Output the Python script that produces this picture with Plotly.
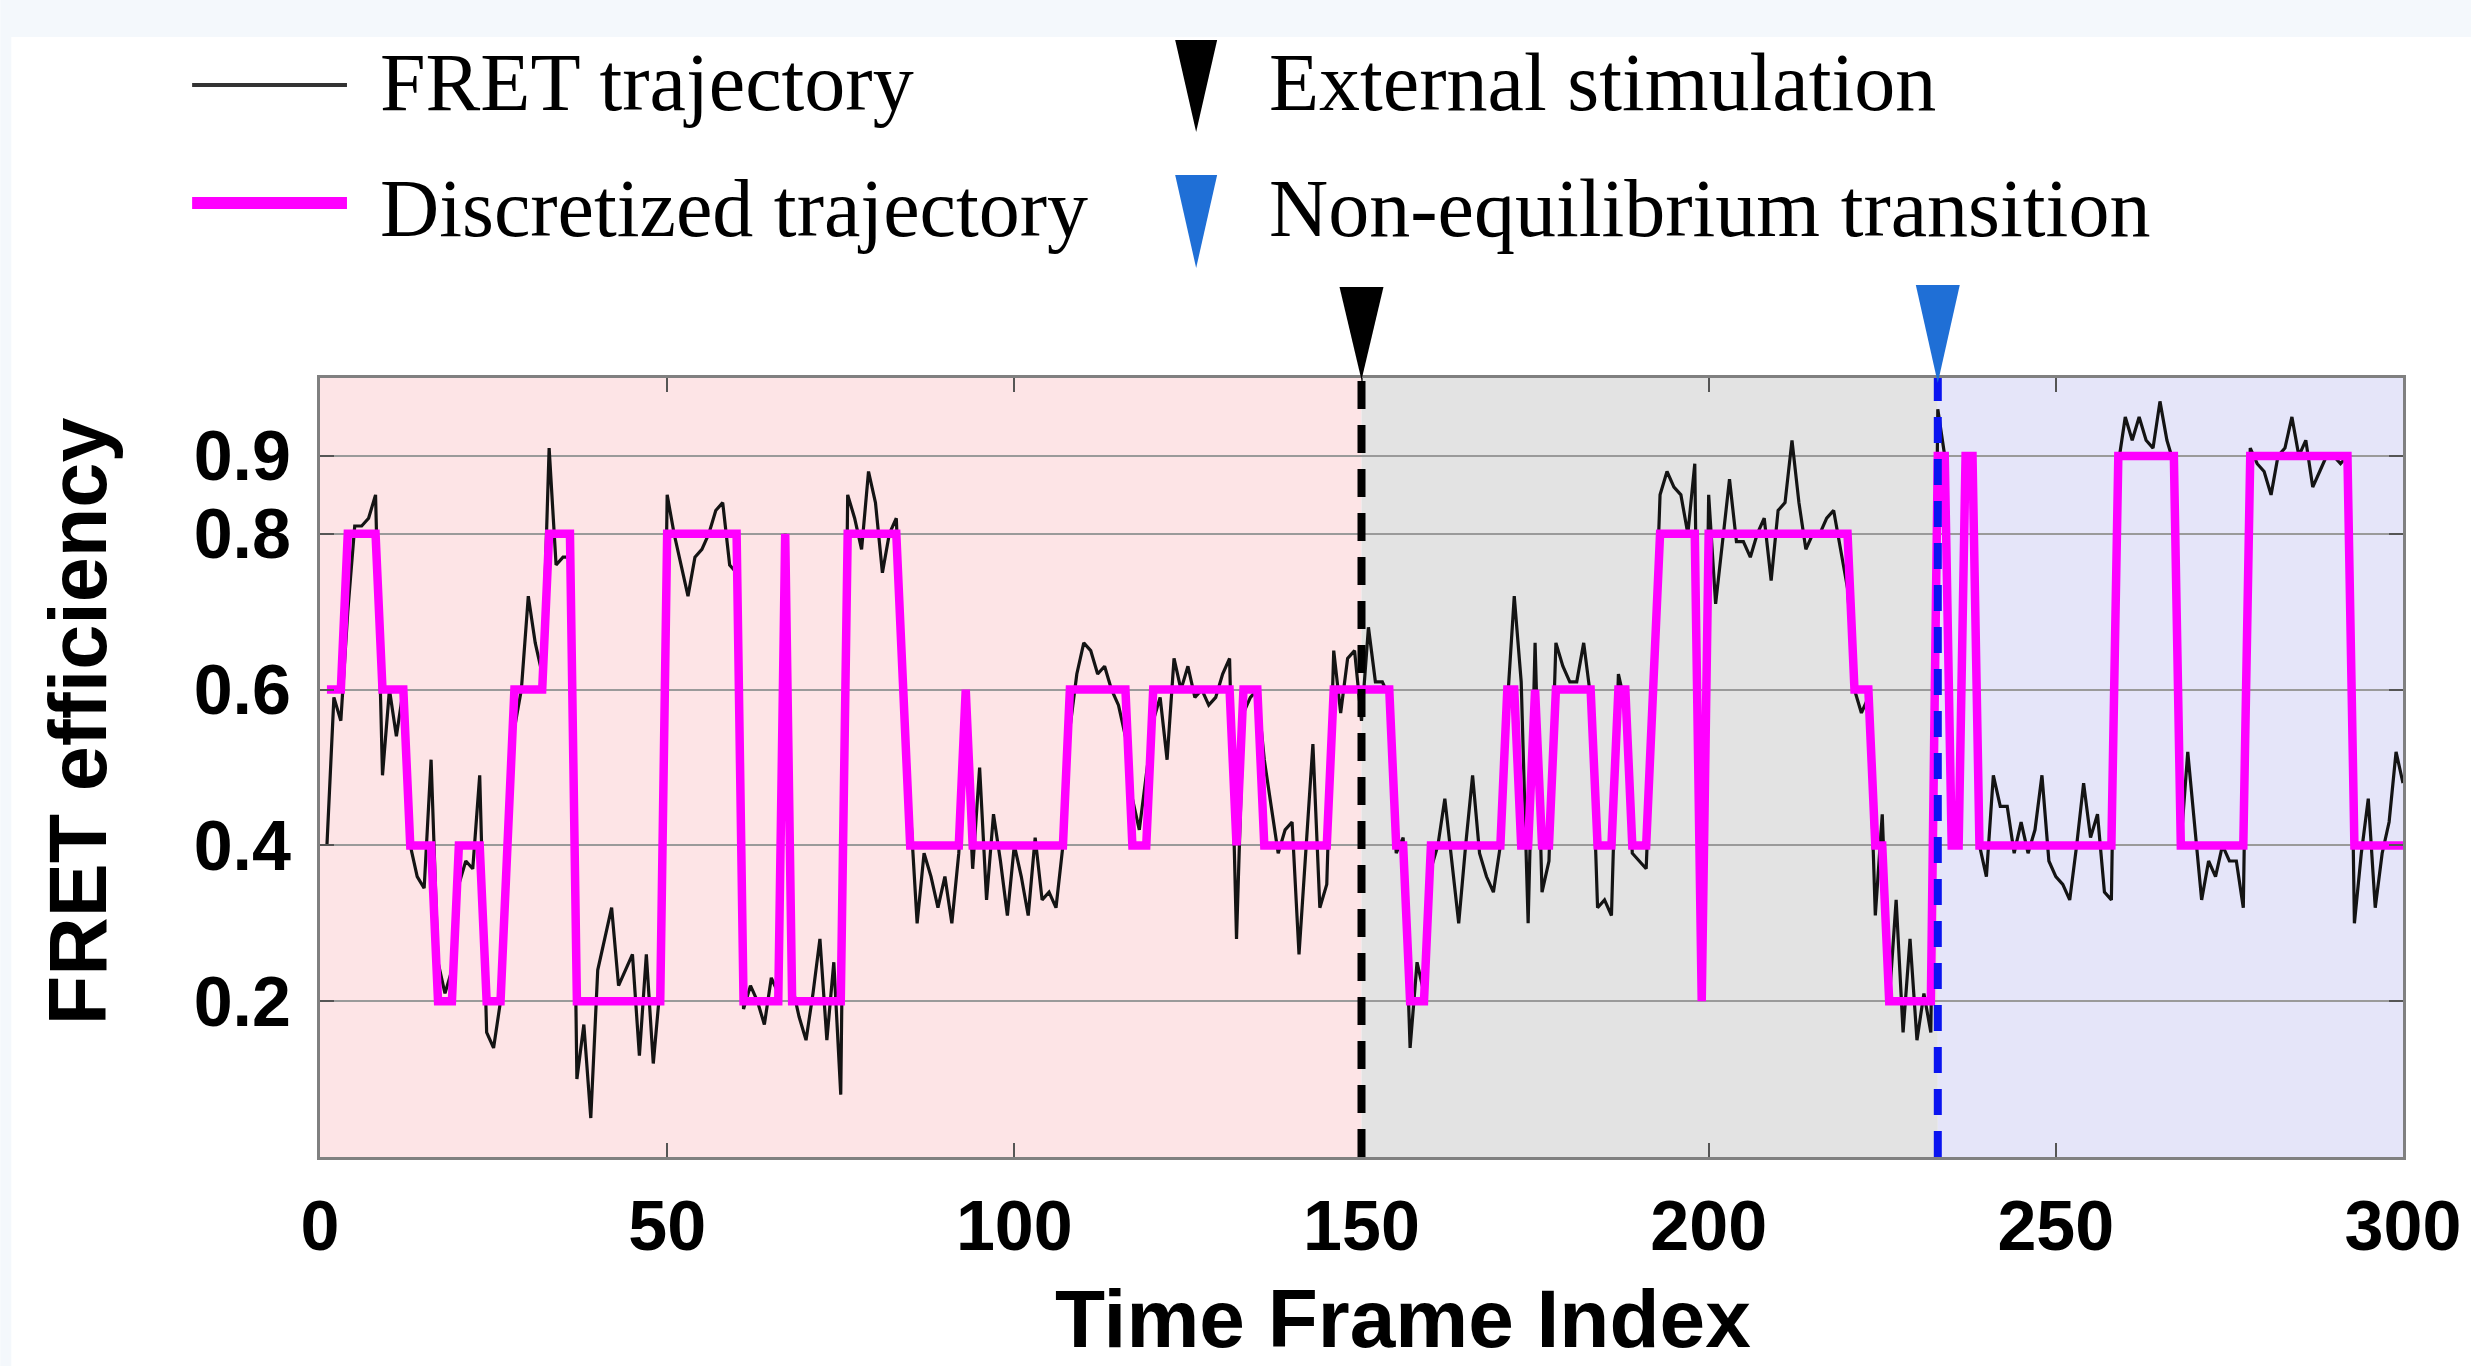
import plotly.graph_objects as go

# ---------------- data ----------------
frames = list(range(1, 301))

fret = [
    0.40, 0.59, 0.56, 0.70, 0.81, 0.81, 0.82, 0.85, 0.49, 0.60,
    0.54, 0.60, 0.40, 0.36, 0.345, 0.51, 0.25, 0.21, 0.24, 0.35,
    0.38, 0.37, 0.49, 0.16, 0.14, 0.20, 0.40, 0.55, 0.60, 0.72,
    0.66, 0.62, 0.91, 0.76, 0.77, 0.77, 0.10, 0.17, 0.05, 0.24,
    0.28, 0.32, 0.22, 0.24, 0.26, 0.13, 0.26, 0.12, 0.22, 0.85,
    0.80, 0.76, 0.72, 0.77, 0.78, 0.80, 0.83, 0.84, 0.76, 0.75,
    0.19, 0.22, 0.20, 0.17, 0.23, 0.21, 0.80, 0.22, 0.18, 0.15,
    0.21, 0.28, 0.15, 0.25, 0.08, 0.85, 0.82, 0.78, 0.88, 0.84,
    0.75, 0.80, 0.82, 0.60, 0.45, 0.30, 0.39, 0.36, 0.32, 0.36,
    0.30, 0.39, 0.56, 0.37, 0.50, 0.33, 0.44, 0.38, 0.31, 0.40,
    0.36, 0.31, 0.41, 0.33, 0.34, 0.32, 0.40, 0.55, 0.62, 0.66,
    0.65, 0.62, 0.63, 0.60, 0.58, 0.54, 0.46, 0.42, 0.49, 0.56,
    0.59, 0.51, 0.64, 0.60, 0.63, 0.59, 0.60, 0.58, 0.59, 0.62,
    0.64, 0.28, 0.57, 0.59, 0.60, 0.51, 0.45, 0.39, 0.42, 0.43,
    0.26, 0.40, 0.53, 0.32, 0.35, 0.65, 0.57, 0.64, 0.65, 0.56,
    0.68, 0.61, 0.61, 0.59, 0.39, 0.41, 0.14, 0.25, 0.21, 0.37,
    0.40, 0.46, 0.38, 0.30, 0.40, 0.49, 0.39, 0.36, 0.34, 0.40,
    0.58, 0.72, 0.61, 0.30, 0.66, 0.34, 0.38, 0.66, 0.63, 0.61,
    0.61, 0.66, 0.59, 0.32, 0.33, 0.31, 0.62, 0.58, 0.39, 0.38,
    0.37, 0.60, 0.85, 0.88, 0.86, 0.85, 0.80, 0.89, 0.21, 0.85,
    0.71, 0.79, 0.87, 0.79, 0.79, 0.77, 0.80, 0.82, 0.74, 0.83,
    0.84, 0.92, 0.84, 0.78, 0.80, 0.80, 0.82, 0.83, 0.78, 0.73,
    0.60, 0.57, 0.59, 0.31, 0.44, 0.20, 0.33, 0.16, 0.28, 0.15,
    0.21, 0.16, 0.96, 0.90, 0.40, 0.42, 0.90, 0.88, 0.40, 0.36,
    0.49, 0.45, 0.45, 0.39, 0.43, 0.39, 0.42, 0.49, 0.38, 0.36,
    0.35, 0.33, 0.40, 0.48, 0.41, 0.44, 0.34, 0.33, 0.89, 0.95,
    0.92, 0.95, 0.92, 0.91, 0.97, 0.92, 0.89, 0.40, 0.52, 0.43,
    0.33, 0.38, 0.36, 0.40, 0.38, 0.38, 0.32, 0.91, 0.89, 0.88,
    0.85, 0.90, 0.91, 0.95, 0.90, 0.92, 0.86, 0.88, 0.90, 0.90,
    0.89, 0.90, 0.30, 0.39, 0.46, 0.32, 0.39, 0.43, 0.52, 0.48,
]

discrete = [
    0.6, 0.6, 0.6, 0.8, 0.8, 0.8, 0.8, 0.8, 0.6, 0.6,
    0.6, 0.6, 0.4, 0.4, 0.4, 0.4, 0.2, 0.2, 0.2, 0.4,
    0.4, 0.4, 0.4, 0.2, 0.2, 0.2, 0.4, 0.6, 0.6, 0.6,
    0.6, 0.6, 0.8, 0.8, 0.8, 0.8, 0.2, 0.2, 0.2, 0.2,
    0.2, 0.2, 0.2, 0.2, 0.2, 0.2, 0.2, 0.2, 0.2, 0.8,
    0.8, 0.8, 0.8, 0.8, 0.8, 0.8, 0.8, 0.8, 0.8, 0.8,
    0.2, 0.2, 0.2, 0.2, 0.2, 0.2, 0.8, 0.2, 0.2, 0.2,
    0.2, 0.2, 0.2, 0.2, 0.2, 0.8, 0.8, 0.8, 0.8, 0.8,
    0.8, 0.8, 0.8, 0.6, 0.4, 0.4, 0.4, 0.4, 0.4, 0.4,
    0.4, 0.4, 0.6, 0.4, 0.4, 0.4, 0.4, 0.4, 0.4, 0.4,
    0.4, 0.4, 0.4, 0.4, 0.4, 0.4, 0.4, 0.6, 0.6, 0.6,
    0.6, 0.6, 0.6, 0.6, 0.6, 0.6, 0.4, 0.4, 0.4, 0.6,
    0.6, 0.6, 0.6, 0.6, 0.6, 0.6, 0.6, 0.6, 0.6, 0.6,
    0.6, 0.4, 0.6, 0.6, 0.6, 0.4, 0.4, 0.4, 0.4, 0.4,
    0.4, 0.4, 0.4, 0.4, 0.4, 0.6, 0.6, 0.6, 0.6, 0.6,
    0.6, 0.6, 0.6, 0.6, 0.4, 0.4, 0.2, 0.2, 0.2, 0.4,
    0.4, 0.4, 0.4, 0.4, 0.4, 0.4, 0.4, 0.4, 0.4, 0.4,
    0.6, 0.6, 0.4, 0.4, 0.6, 0.4, 0.4, 0.6, 0.6, 0.6,
    0.6, 0.6, 0.6, 0.4, 0.4, 0.4, 0.6, 0.6, 0.4, 0.4,
    0.4, 0.6, 0.8, 0.8, 0.8, 0.8, 0.8, 0.8, 0.2, 0.8,
    0.8, 0.8, 0.8, 0.8, 0.8, 0.8, 0.8, 0.8, 0.8, 0.8,
    0.8, 0.8, 0.8, 0.8, 0.8, 0.8, 0.8, 0.8, 0.8, 0.8,
    0.6, 0.6, 0.6, 0.4, 0.4, 0.2, 0.2, 0.2, 0.2, 0.2,
    0.2, 0.2, 0.9, 0.9, 0.4, 0.4, 0.9, 0.9, 0.4, 0.4,
    0.4, 0.4, 0.4, 0.4, 0.4, 0.4, 0.4, 0.4, 0.4, 0.4,
    0.4, 0.4, 0.4, 0.4, 0.4, 0.4, 0.4, 0.4, 0.9, 0.9,
    0.9, 0.9, 0.9, 0.9, 0.9, 0.9, 0.9, 0.4, 0.4, 0.4,
    0.4, 0.4, 0.4, 0.4, 0.4, 0.4, 0.4, 0.9, 0.9, 0.9,
    0.9, 0.9, 0.9, 0.9, 0.9, 0.9, 0.9, 0.9, 0.9, 0.9,
    0.9, 0.9, 0.4, 0.4, 0.4, 0.4, 0.4, 0.4, 0.4, 0.4,
]

stim_frame = 150          # external stimulation
transition_frame = 233    # non-equilibrium transition
x_end = 300

x_ticks = [0, 50, 100, 150, 200, 250, 300]
y_ticks = [0.2, 0.4, 0.6, 0.8, 0.9]
y_ticklabels = ["0.2", "0.4", "0.6", "0.8", "0.9"]

legend_labels = ["FRET trajectory", "Discretized trajectory",
                 "External stimulation", "Non-equilibrium transition"]

# ---------------- layout geometry ----------------
W, H = 2473, 1366
L, R, T, B = 320, 68, 378, 209
PW, PH = W - L - R, H - T - B


def px(xp):
    return (xp - L) / PW


def py(yp):
    return (H - B - yp) / PH


def xdata_w(pixels):
    return pixels * x_end / PW


PINK = "#fde4e6"
GRAY = "#e3e3e3"
LAV = "#e5e5f9"
MAGENTA = "#ff00ff"
TRI_BLUE = "#1f6fd6"
LINE_BLUE = "#0a14f0"

fig = go.Figure()

fig.add_trace(go.Scatter(x=frames, y=fret, mode="lines",
                         line=dict(color="#141414", width=3.2),
                         showlegend=False, hoverinfo="skip"))
fig.add_trace(go.Scatter(x=frames, y=discrete, mode="lines",
                         line=dict(color=MAGENTA, width=8.5),
                         showlegend=False, hoverinfo="skip"))

shapes = []
# phase backgrounds
shapes.append(dict(type="rect", xref="x", yref="paper", x0=0, x1=stim_frame,
                   y0=0, y1=1, fillcolor=PINK, line=dict(width=0), layer="below"))
shapes.append(dict(type="rect", xref="x", yref="paper", x0=stim_frame, x1=transition_frame,
                   y0=0, y1=1, fillcolor=GRAY, line=dict(width=0), layer="below"))
shapes.append(dict(type="rect", xref="x", yref="paper", x0=transition_frame, x1=x_end,
                   y0=0, y1=1, fillcolor=LAV, line=dict(width=0), layer="below"))
# dashed event lines
shapes.append(dict(type="line", xref="x", yref="paper", x0=stim_frame, x1=stim_frame,
                   y0=0, y1=1, line=dict(color="black", width=8, dash="28px,16px"),
                   layer="above"))
shapes.append(dict(type="line", xref="x", yref="paper", x0=transition_frame, x1=transition_frame,
                   y0=0, y1=1, line=dict(color=LINE_BLUE, width=8, dash="26px,16px"),
                   layer="above"))

# triangles above the plot marking the events
hw = xdata_w(22)
for xf, col, ytop, ytip in [(stim_frame, "black", 287, 380),
                            (transition_frame, TRI_BLUE, 285, 383)]:
    shapes.append(dict(type="path", xref="x", yref="paper",
                       path=f"M {xf - hw},{py(ytop)} L {xf + hw},{py(ytop)} L {xf},{py(ytip)} Z",
                       fillcolor=col, line=dict(width=0), layer="above"))

# page strips (cropped figure edges)
shapes.append(dict(type="rect", xref="paper", yref="paper", x0=px(0), x1=px(W),
                   y0=py(37), y1=py(0), fillcolor="#f4f8fc", line=dict(width=0), layer="below"))
shapes.append(dict(type="rect", xref="paper", yref="paper", x0=px(0), x1=px(11),
                   y0=py(H), y1=py(37), fillcolor="#f4f8fc", line=dict(width=0), layer="below"))

# legend symbols
shapes.append(dict(type="line", xref="paper", yref="paper", x0=px(192), x1=px(347),
                   y0=py(85), y1=py(85), line=dict(color="#333333", width=4)))
shapes.append(dict(type="line", xref="paper", yref="paper", x0=px(192), x1=px(347),
                   y0=py(203), y1=py(203), line=dict(color=MAGENTA, width=12)))
shapes.append(dict(type="path", xref="paper", yref="paper",
                   path=f"M {px(1176)},{py(40)} L {px(1218)},{py(40)} L {px(1197)},{py(132)} Z",
                   fillcolor="black", line=dict(width=0)))
shapes.append(dict(type="path", xref="paper", yref="paper",
                   path=f"M {px(1176)},{py(175)} L {px(1218)},{py(175)} L {px(1197)},{py(268)} Z",
                   fillcolor=TRI_BLUE, line=dict(width=0)))

serif = dict(family="Liberation Serif", size=82, color="black")
annotations = [
    dict(text=legend_labels[0], x=px(378), y=py(82), xref="paper", yref="paper",
         xanchor="left", yanchor="middle", showarrow=False, font=serif),
    dict(text=legend_labels[1], x=px(378), y=py(209), xref="paper", yref="paper",
         xanchor="left", yanchor="middle", showarrow=False, font=serif),
    dict(text=legend_labels[2], x=px(1268), y=py(82), xref="paper", yref="paper",
         xanchor="left", yanchor="middle", showarrow=False, font=serif),
    dict(text=legend_labels[3], x=px(1268), y=py(209), xref="paper", yref="paper",
         xanchor="left", yanchor="middle", showarrow=False, font=serif),
    dict(text="Time Frame Index", x=px(1404), y=py(1318), xref="paper", yref="paper",
         xanchor="center", yanchor="middle", showarrow=False,
         font=dict(family="Liberation Sans", size=82, color="black", weight="bold")),
    dict(text="FRET efficiency", x=px(78), y=py(721), xref="paper", yref="paper",
         xanchor="center", yanchor="middle", showarrow=False, textangle=-90,
         font=dict(family="Liberation Sans", size=81, color="black", weight="bold")),
]

tickfont = dict(family="Liberation Sans", size=70, color="black", weight="bold")

fig.update_layout(
    width=W, height=H,
    margin=dict(l=L, r=R, t=T, b=B, pad=0),
    paper_bgcolor="white", plot_bgcolor="white",
    showlegend=False,
    shapes=shapes, annotations=annotations,
    xaxis=dict(range=[0, x_end], tickvals=x_ticks, ticks="inside", ticklen=14,
               tickwidth=2, tickcolor="#555555", showgrid=False, zeroline=False,
               showline=True, linecolor="#808080", linewidth=3, mirror="ticks",
               tickfont=tickfont, ticklabelstandoff=6),
    yaxis=dict(range=[0, 1], tickvals=y_ticks, ticktext=y_ticklabels, ticks="inside",
               ticklen=14, tickwidth=2, tickcolor="#555555", showgrid=True,
               gridcolor="#9a9a9a", gridwidth=2, zeroline=False,
               showline=True, linecolor="#808080", linewidth=3, mirror="ticks",
               tickfont=tickfont, ticklabelstandoff=12),
)

fig.write_html("out.html")
